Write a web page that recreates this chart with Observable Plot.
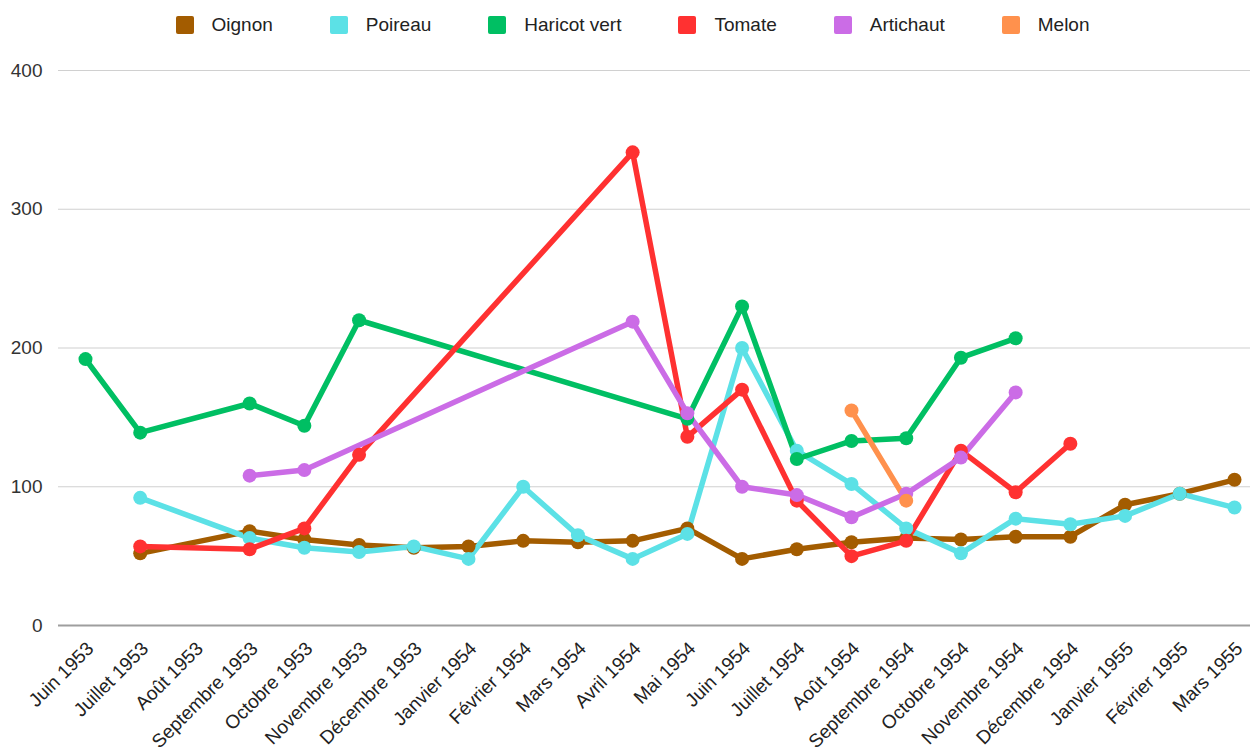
<!DOCTYPE html>
<html>
<head>
<meta charset="utf-8">
<script src="https://cdn.jsdelivr.net/npm/d3@7"></script>
<script src="https://cdn.jsdelivr.net/npm/@observablehq/plot@0.6"></script>
<style>
  html, body { margin: 0; padding: 0; background: #fff; }
  body { width: 1250px; height: 751px; overflow: hidden; font-family: "Liberation Sans", Arial, sans-serif; }
  #legend { height: 50px; display: flex; justify-content: center; align-items: center; gap: 57px; padding-left: 15px; box-sizing: border-box; font-size: 19px; color: #222; }
  .item { display: flex; align-items: center; gap: 18px; }
  .sw { width: 18px; height: 18px; border-radius: 2px; }
</style>
</head>
<body>
<div id="legend"></div>
<div id="chart"></div>
<script>
const months = ["Juin 1953","Juillet 1953","Août 1953","Septembre 1953","Octobre 1953","Novembre 1953","Décembre 1953","Janvier 1954","Février 1954","Mars 1954","Avril 1954","Mai 1954","Juin 1954","Juillet 1954","Août 1954","Septembre 1954","Octobre 1954","Novembre 1954","Décembre 1954","Janvier 1955","Février 1955","Mars 1955"];
const seriesNames = ["Oignon","Poireau","Haricot vert","Tomate","Artichaut","Melon"];
const seriesColors = ["#a35c00","#5ce1e6","#00bf63","#ff3131","#cb6ce6","#ff914d"];
const oignon    = [null, 52, null, 68, 62, 58, 56, 57, 61, 60, 61, 70, 48, 55, 60, 63, 62, 64, 64, 87, 95, 105];
const poireau   = [null, 92, null, 63, 56, 53, 57, 48, 100, 65, 48, 66, 200, 126, 102, 70, 52, 77, 73, 79, 95, 85];
const haricot   = [192, 139, null, 160, 144, 220, null, null, null, null, null, 149, 230, 120, 133, 135, 193, 207, null, null, null, null];
const tomate    = [null, 57, null, 55, 70, 123, null, null, null, null, 341, 136, 170, 90, 50, 61, 126, 96, 131, null, null, null];
const artichaut = [null, null, null, 108, 112, null, null, null, null, null, 219, 153, 100, 94, 78, 95, 121, 168, null, null, null, null];
const melon     = [null, null, null, null, null, null, null, null, null, null, null, null, null, null, 155, 90, null, null, null, null, null, null];
const yTicks = [0, 100, 200, 300, 400];

const allSeries = [oignon, poireau, haricot, tomate, artichaut, melon];
const data = [];
allSeries.forEach((vals, si) => {
  vals.forEach((v, i) => {
    if (v != null) data.push({series: seriesNames[si], month: months[i], value: v});
  });
});

const legend = document.getElementById("legend");
seriesNames.forEach((n, i) => {
  const it = document.createElement("div");
  it.className = "item";
  it.innerHTML = `<div class="sw" style="background:${seriesColors[i]}"></div><span>${n}</span>`;
  legend.appendChild(it);
});

const chart = Plot.plot({
  width: 1250,
  height: 701,
  marginLeft: 58,
  marginRight: 0,
  marginTop: 20,
  marginBottom: 126,
  style: {fontFamily: "'Liberation Sans', Arial, sans-serif", fontSize: "19px", color: "#333", background: "#fff"},
  x: {type: "point", domain: months, range: [85, 1234], padding: 0, round: false},
  y: {domain: [0, 400]},
  color: {domain: seriesNames, range: seriesColors},
  marks: [
    Plot.ruleY(yTicks.filter(d => d > 0), {stroke: "#d0d0d0", strokeWidth: 1.2}),
    Plot.ruleY([0], {stroke: "#9e9e9e", strokeWidth: 1.8}),
    Plot.axisY({ticks: yTicks, tickSize: 0, tickPadding: 16, fill: "#333", label: null}),
    Plot.axisX({tickSize: 0, tickRotate: -45, tickPadding: 20, dx: 5, fill: "#222", label: null}),
    Plot.line(data, {x: "month", y: "value", z: "series", stroke: "series", strokeWidth: 5.5, strokeLinejoin: "round", strokeLinecap: "round"}),
    Plot.dot(data, {x: "month", y: "value", fill: "series", r: 7})
  ]
});
document.getElementById("chart").appendChild(chart);
</script>
</body>
</html>
